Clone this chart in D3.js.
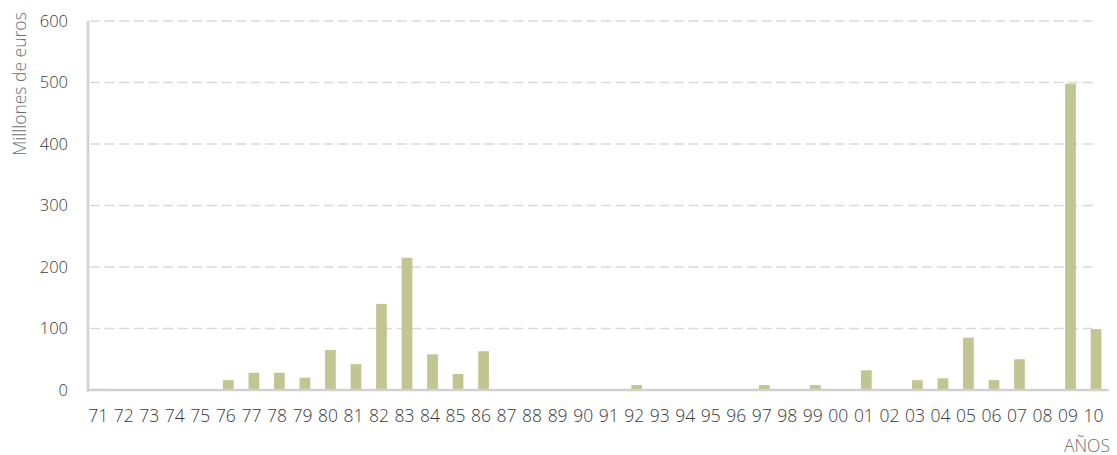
<!DOCTYPE html>
<html>
<head>
<meta charset="utf-8">
<script src="https://cdn.jsdelivr.net/npm/d3@7"></script>
<style>
  html, body { margin: 0; padding: 0; background: #ffffff; }
  svg { display: block; }
  text { font-family: "Open Sans", "Noto Sans", sans-serif; font-weight: 300; }
</style>
</head>
<body>
<svg id="chart" width="1117" height="455"></svg>
<script>
// Years (two-digit labels), 1971–2010
const years = ["71","72","73","74","75","76","77","78","79","80",
               "81","82","83","84","85","86","87","88","89","90",
               "91","92","93","94","95","96","97","98","99","00",
               "01","02","03","04","05","06","07","08","09","10"];

// Main series, millions of euros per year
const values = [0,0,0,0,0,16,28,28,20,65,
                42,140,215,58,26,63,0,0,0,0,
                0,8,0,0,0,0,8,0,8,0,
                32,0,16,19,85,16,50,0,498,99];

// Small first-year series
const firstYear = [2,0,0,0,0,0,0,0,0,0,
                   0,0,0,0,0,0,0,0,0,0,
                   0,0,0,0,0,0,0,0,0,0,
                   0,0,0,0,0,0,0,0,0,0];

const yTicks = [0,100,200,300,400,500,600];

const svg = d3.select("#chart");
const plotLeft = 88, plotRight = 1108.8, plotTop = 21, plotBottom = 390;

const x = d3.scaleBand().domain(years).range([plotLeft, plotRight]).paddingInner(0.58).paddingOuter(0.29);
const y = d3.scaleLinear().domain([0, 600]).range([plotBottom, plotTop]);

// Dashed horizontal gridlines
svg.append("g").selectAll("line")
  .data(yTicks.filter(d => d > 0))
  .join("line")
  .attr("x1", plotLeft + 2).attr("x2", 1097)
  .attr("y1", d => y(d)).attr("y2", d => y(d))
  .attr("stroke", "#d9d9d9").attr("stroke-width", 1.5)
  .attr("stroke-dasharray", "10,4.6");

// Bars
svg.append("g").selectAll("rect")
  .data(years.map((k, i) => ({k, v: values[i]})).filter(d => d.v > 0))
  .join("rect")
  .attr("x", d => x(d.k))
  .attr("width", x.bandwidth())
  .attr("y", d => y(d.v))
  .attr("height", d => y(0) - y(d.v))
  .attr("fill", "#c2c591");

svg.append("g").selectAll("rect")
  .data(years.map((k, i) => ({k, v: firstYear[i]})).filter(d => d.v > 0))
  .join("rect")
  .attr("x", d => x(d.k))
  .attr("width", x.bandwidth())
  .attr("y", d => y(d.v))
  .attr("height", d => y(0) - y(d.v))
  .attr("fill", "#a9d3db");

// Axis lines
svg.append("line")
  .attr("x1", plotLeft).attr("x2", plotLeft)
  .attr("y1", plotTop).attr("y2", plotBottom + 1.5)
  .attr("stroke", "#d0d0d0").attr("stroke-width", 2.5);
svg.append("line")
  .attr("x1", plotLeft - 1).attr("x2", plotRight)
  .attr("y1", plotBottom).attr("y2", plotBottom)
  .attr("stroke", "#d0d0d0").attr("stroke-width", 2.5);

// Y tick labels
const yAxis = d3.axisLeft(y).tickValues(yTicks).tickSize(0).tickPadding(0);
const gy = svg.append("g").attr("transform", `translate(68,0)`).call(yAxis);
gy.select(".domain").remove();
gy.selectAll("text")
  .attr("font-family", "\"Open Sans\", sans-serif")
  .attr("font-weight", 300)
  .attr("font-size", 16.5).attr("fill", "#3a3a3a");

// X tick labels
const xAxis = d3.axisBottom(x).tickSize(0).tickPadding(0);
const gx = svg.append("g").attr("transform", `translate(-2.5,409.3)`).call(xAxis);
gx.select(".domain").remove();
gx.selectAll("text")
  .attr("font-family", "\"Open Sans\", sans-serif")
  .attr("font-weight", 300)
  .attr("font-size", 17.5).attr("fill", "#3a3a3a");

// Axis titles
svg.append("text")
  .attr("transform", "translate(26,84) rotate(-90)")
  .attr("text-anchor", "middle")
  .attr("font-size", 17.5).attr("fill", "#6e6e6e")
  .text("Milllones de euros");

svg.append("text")
  .attr("x", 1110).attr("y", 451.5)
  .attr("text-anchor", "end")
  .attr("font-size", 17.5).attr("fill", "#6e6e6e")
  .text("AÑOS");
</script>
</body>
</html>
